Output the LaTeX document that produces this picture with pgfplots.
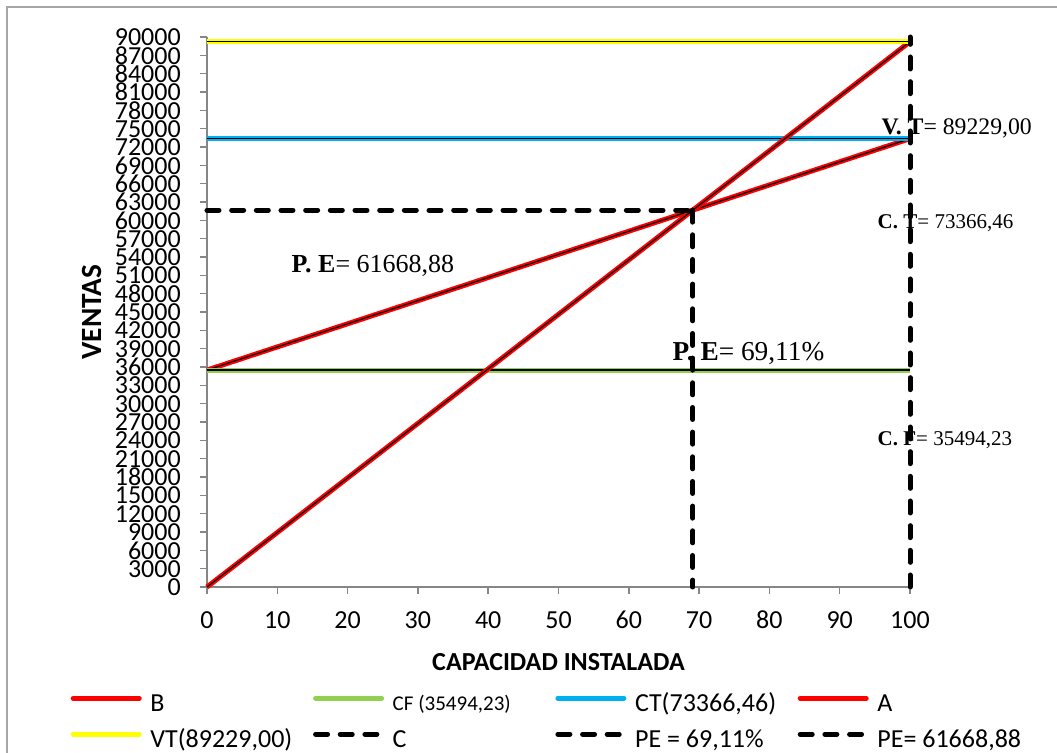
\documentclass[border=0pt]{standalone}
\usepackage{pgfplots}
\pgfplotsset{compat=1.18}
\usepackage{fontspec}
\setmainfont{Carlito}
\newfontfamily\serifnum{Liberation Serif}

\definecolor{cfgreen}{HTML}{92D050}
\definecolor{ctblue}{HTML}{00B0F0}
\definecolor{vtyellow}{HTML}{FFFF00}
\definecolor{axgray}{HTML}{868686}
\definecolor{framegray}{HTML}{A6A6A6}

% legend text cell: fixed width and fixed row height
\newcommand\lgtext[1]{\makebox[122pt][l]{\rule[-9pt]{0pt}{30.75pt}#1}}

\begin{document}
\begin{tikzpicture}
\useasboundingbox (-155.25pt,-124.5pt) rectangle (637.5pt,440.25pt);
\draw[framegray, line width=1pt] (-150pt,-140pt) -- (-150pt,435pt) -- (660pt,435pt);
\begin{axis}[
  at={(0pt,0pt)}, anchor=south west,
  scale only axis, width=527.25pt, height=412.5pt,
  xmin=0, xmax=100, ymin=0, ymax=90000,
  clip=false,
  axis x line*=bottom, axis y line*=left,
  axis line style={axgray, line width=1.1pt},
  tick style={axgray, line width=1.1pt},
  tick align=outside, major tick length=5.25pt,
  xtick={0,10,...,100},
  ytick={0,3000,...,90000},
  scaled y ticks=false,
  /pgf/number format/1000 sep={},
  /pgf/number format/assume math mode=true,
  tick label style={font=\fontsize{19.5}{20}\selectfont, black},
  every x tick label/.append style={anchor=center, inner sep=0pt, yshift=-19.5pt},
  every y tick label/.append style={anchor=east, inner sep=0pt, xshift=-14.25pt},
  xlabel={\textbf{CAPACIDAD INSTALADA}},
  ylabel={\textbf{VENTAS}},
  every axis x label/.style={at={(0.5,0)}, anchor=center, yshift=-56.25pt, font=\fontsize{19.5}{22}\selectfont},
  every axis y label/.style={at={(0,0.5)}, xshift=-86.25pt, rotate=90, anchor=center, font=\fontsize{22}{24}\selectfont},
  legend columns=4,
  legend cell align=left,
  legend style={at={(-0.1942,-0.1736)}, anchor=north west, draw=none, fill=none,
    inner sep=0pt, row sep=3.75pt, column sep=0pt,
    nodes={inner sep=0pt, anchor=west},
    font=\fontsize{19.5}{20}\selectfont},
  legend image code/.code={\draw[#1, line cap=round] (0pt,0pt) -- (49.5pt,0pt); \path (56pt,0pt);},
]
% B: costo total
\addplot[red, line width=3.75pt] coordinates {(0,35494.23) (100,73366.46)};
\addlegendentry{\lgtext{B}}
\addplot[black, line width=0.9pt, forget plot] coordinates {(0,35494.23) (100,73366.46)};
% costo fijo
\addplot[cfgreen, line width=3.75pt] coordinates {(0,35494.23) (100,35494.23)};
\addlegendentry{\lgtext{\raisebox{1.2pt}{\fontsize{15.75}{18}\selectfont CF (35494,23)}}}
\addplot[black, line width=1pt, forget plot] coordinates {(0,35494.23) (100,35494.23)};
% costo total
\addplot[ctblue, line width=3.75pt] coordinates {(0,73366.46) (100,73366.46)};
\addlegendentry{\lgtext{CT(73366,46)}}
\addplot[black, line width=1pt, forget plot] coordinates {(0,73366.46) (100,73366.46)};
% A: ventas
\addplot[red, line width=3.75pt] coordinates {(0,0) (100,89229)};
\addlegendentry{\lgtext{A}}
\addplot[black, line width=0.9pt, forget plot] coordinates {(0,0) (100,89229)};
% ventas totales
\addplot[vtyellow, line width=3.75pt] coordinates {(0,89229) (100,89229)};
\addlegendentry{\lgtext{VT(89229,00)}}
\addplot[black, line width=1pt, forget plot] coordinates {(0,89229) (100,89229)};

% annotations
\node[anchor=base west, font=\serifnum\fontsize{19.5}{22}\selectfont] at (axis cs:11.38,51545) {\textbf{P. E}= 61668,88};
\node[anchor=base west, font=\serifnum\fontsize{20.5}{22}\selectfont] at (axis cs:65.58,37145) {\textbf{P. E}= 69,11\%};
\node[anchor=base west, font=\serifnum\fontsize{17.8}{20}\selectfont] at (axis cs:95.31,73964) {\textbf{V. T}= 89229,00};
\node[anchor=base west, font=\serifnum\fontsize{15.75}{18}\selectfont] at (axis cs:94.74,58745) {\textbf{C. T}= 73366,46};
\node[anchor=base west, font=\serifnum\fontsize{15.75}{18}\selectfont] at (axis cs:94.74,23236) {\textbf{C. F}= 35494,23};

% dashed guides
\addplot[black, line width=3.75pt, dash pattern=on 9pt off 9.5pt, line cap=round] coordinates {(100,0) (100,90000)};
\addlegendentry{\lgtext{C}}
\addplot[black, line width=3.75pt, dash pattern=on 9pt off 9.5pt, line cap=round] coordinates {(69.11,61668.88) (69.11,0)};
\addlegendentry{\lgtext{PE = 69,11\%}}
\addplot[black, line width=3.75pt, dash pattern=on 9pt off 9.5pt, line cap=round] coordinates {(0,61668.88) (69.11,61668.88)};
\addlegendentry{\lgtext{PE= 61668,88}}
\end{axis}
\end{tikzpicture}
\end{document}
